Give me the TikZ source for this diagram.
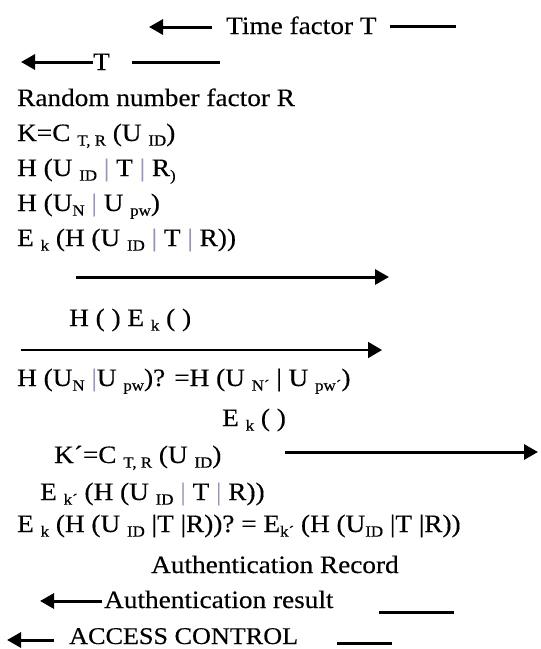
\documentclass[tikz,border=0pt]{standalone}
\usepackage{fontspec}
\setmainfont[FakeStretch=1.09,FakeBold=0.3]{Liberation Serif}
\usetikzlibrary{arrows.meta}
\definecolor{barc}{RGB}{150,150,185}
\newcommand\lo[1]{\raisebox{-0.4ex}{\fontsize{15.5}{15.5}\selectfont #1}}
\newcommand\vb{{\color{barc}|}}
\begin{document}
\begin{tikzpicture}[x=1pt,y=-1pt,
  txt/.style={inner sep=0pt, anchor=base west, font=\fontsize{25}{28}\selectfont},
  arr/.style={line width=3pt, -{Triangle[length=14pt,width=15pt]}},
  thinarr/.style={line width=1.8pt, -{Triangle[length=14pt,width=16pt]}},
  seg/.style={line width=3pt}]
\useasboundingbox (0,0) rectangle (541,649);

% texts
\node[txt] (tf) at (226,34) {Time factor T};
\node[txt] (t) at (93,70) {T};
\node[txt] (rn) at (17,106) {Random number factor R};
\node[txt] (k) at (17,141) {K=C \lo{T, R} (U \lo{ID})};
\node[txt] (h1) at (17,176) {H (U \lo{ID} \vb{} T \vb{} R\lo{)}};
\node[txt] (h2) at (17,211) {H (U\lo{N} \vb{} U \lo{pw})};
\node[txt] (ek) at (17,246) {E \lo{k} (H (U \lo{ID} \vb{} T \vb{} R))};
\node[txt] (he) at (69,326) {H ( ) E \lo{k} ( )};
\node[txt] (hq) at (17,386) {H (U\lo{N} \vb{}U \lo{pw})? =H (U \lo{N´} | U \lo{pw´})};
\node[txt] (ek2) at (222,426) {E \lo{k} ( )};
\node[txt] (kp) at (54,463) {K´=C \lo{T, R} (U \lo{ID})};
\node[txt] (ekp) at (40,500) {E \lo{k´} (H (U \lo{ID} \vb{} T \vb{} R))};
\node[txt] (ekq) at (17,532) {E \lo{k} (H (U \lo{ID} |T |R))? = E\lo{k´} (H (U\lo{ID} |T |R))};
\node[txt] (ar) at (151,573) {Authentication Record};
\node[txt] (res) at (104,608) {Authentication result};
\node[txt,font=\fontsize{24}{28}\selectfont] (ac) at (69,644) {ACCESS CONTROL};

% coordinates
\coordinate (a1s) at (212,27); \coordinate (a1e) at (149,27);
\coordinate (l1s) at (390,26); \coordinate (l1e) at (456,26);
\coordinate (a2s) at (93,62);  \coordinate (a2e) at (21,62);
\coordinate (l2s) at (132,62); \coordinate (l2e) at (220,62);
\coordinate (a3s) at (76,277); \coordinate (a3e) at (389,277);
\coordinate (a4s) at (21,350); \coordinate (a4e) at (382,350);
\coordinate (a5s) at (285,452); \coordinate (a5e) at (538,452);
\coordinate (a6s) at (102,601); \coordinate (a6e) at (40,601);
\coordinate (l6s) at (379,612); \coordinate (l6e) at (454,612);
\coordinate (a7s) at (54,640); \coordinate (a7e) at (7,640);
\coordinate (l7s) at (337,643); \coordinate (l7e) at (392,643);

% connectors
\draw[arr] (a1s) -- (a1e);
\draw[seg] (l1s) -- (l1e);
\draw[arr] (a2s) -- (a2e);
\draw[seg] (l2s) -- (l2e);
\draw[arr] (a3s) -- (a3e);
\draw[thinarr] (a4s) -- (a4e);
\draw[arr] (a5s) -- (a5e);
\draw[arr] (a6s) -- (a6e);
\draw[seg] (l6s) -- (l6e);
\draw[arr] (a7s) -- (a7e);
\draw[seg] (l7s) -- (l7e);
\end{tikzpicture}
\end{document}
